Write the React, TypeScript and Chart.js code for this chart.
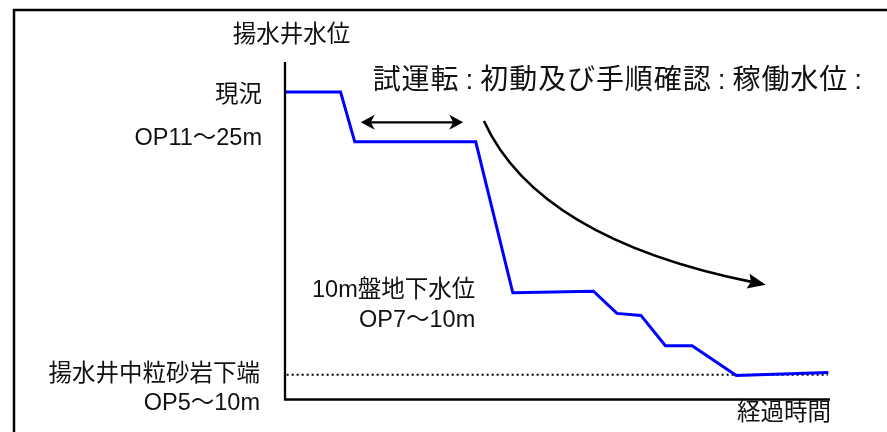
import React, { useEffect, useRef } from "react";
import { Chart, registerables } from "chart.js";

Chart.register(...registerables);

// ---- data (x: elapsed time, y: water level, arbitrary units 0..100) ----
const levelX = [0, 10.2, 12.8, 35.0, 41.8, 56.6, 60.9, 65.3, 69.8, 74.7, 82.8, 99.7];
const levelY = [91.1, 91.1, 76.3, 76.3, 31.5, 32.0, 25.4, 24.8, 15.8, 15.8, 7.0, 7.9];
const baseX = [0.3, 99.6];
const baseY = [7.2, 7.2];

// ---- texts ----
const yAxisTitle = "揚水井水位";
const xAxisTitle = "経過時間";
const currentLabel = ["現況", "OP11～25m"];
const shallowLabel = ["10m盤地下水位", "OP7～10m"];
const bottomLabel = ["揚水井中粒砂岩下端", "OP5～10m"];
const phaseTitle = "試運転:初動及び手順確認:稼働水位:";

const FONT = '"Liberation Sans", "Noto Sans CJK JP", sans-serif';

function arrowHead(ctx: CanvasRenderingContext2D, tx: number, ty: number, ang: number, len: number, half: number, notch: number) {
  ctx.save();
  ctx.translate(tx, ty);
  ctx.rotate(ang);
  ctx.beginPath();
  ctx.moveTo(0, 0);
  ctx.lineTo(-len, -half);
  ctx.lineTo(-len + notch, 0);
  ctx.lineTo(-len, half);
  ctx.closePath();
  ctx.fill();
  ctx.restore();
}

const decor = {
  id: "decor",
  beforeDraw(chart: any) {
    const ctx = chart.ctx as CanvasRenderingContext2D;
    ctx.save();
    ctx.fillStyle = "#ffffff";
    ctx.fillRect(0, 0, chart.width, chart.height);
    ctx.strokeStyle = "#000";
    ctx.lineWidth = 2.5;
    ctx.strokeRect(14, 10, chart.width + 50, chart.height + 50);
    ctx.restore();
  },
  afterDatasetsDraw(chart: any) {
    const ctx = chart.ctx as CanvasRenderingContext2D;
    const xs = chart.scales.x;
    const ys = chart.scales.y;
    const X = (v: number) => xs.getPixelForValue(v);
    const Y = (v: number) => ys.getPixelForValue(v);
    const ca = chart.chartArea;
    ctx.save();

    // axes
    ctx.strokeStyle = "#000";
    ctx.lineWidth = 2.3;
    ctx.lineJoin = "miter";
    ctx.beginPath();
    ctx.moveTo(X(0), ca.top);
    ctx.lineTo(X(0), ca.bottom + 0.5);
    ctx.lineTo(ca.right, ca.bottom + 0.5);
    ctx.stroke();

    // texts
    ctx.fillStyle = "#111";
    ctx.textBaseline = "middle";
    ctx.font = `23.5px ${FONT}`;
    ctx.textAlign = "center";
    ctx.fillText(yAxisTitle, X(0) + 6.5, Y(108));
    ctx.textAlign = "right";
    ctx.fillText(xAxisTitle, ca.right + 1, Y(-4.2));
    const lx = X(0) - 23;
    ctx.fillText(currentLabel[0], lx, Y(90.2));
    ctx.fillText(currentLabel[1], lx, Y(77.4));
    ctx.fillText(bottomLabel[0], lx - 2, Y(7.4));
    ctx.fillText(bottomLabel[1], lx - 2, Y(-1.3));
    ctx.fillText(shallowLabel[0], X(34.9), Y(32.3));
    ctx.fillText(shallowLabel[1], X(34.9), Y(23.3));

    // phase title, char by char
    ctx.font = `28px ${FONT}`;
    ctx.textAlign = "center";
    let tx = X(16.0);
    const ty = Y(94.4);
    for (const ch of phaseTitle) {
      const w = ch === ":" ? 21 : 28.9;
      ctx.fillText(ch, tx + w / 2, ty);
      tx += w;
    }

    // double arrow
    ctx.fillStyle = "#000";
    ctx.strokeStyle = "#000";
    const ax1 = X(13.9), ax2 = X(32.7), ay = Y(82.1);
    ctx.lineWidth = 2.2;
    ctx.beginPath();
    ctx.moveTo(ax1 + 6, ay);
    ctx.lineTo(ax2 - 6, ay);
    ctx.stroke();
    arrowHead(ctx, ax1, ay, Math.PI, 14, 7.5, 4);
    arrowHead(ctx, ax2, ay, 0, 14, 7.5, 4);

    // curved arrow (quadratic)
    const p0 = { x: X(36.5), y: Y(82.5) };
    const p1 = { x: X(46.4), y: Y(47.5) };
    const p2 = { x: X(88.2), y: Y(33.9) };
    const ang = Math.atan2(p2.y - p1.y, p2.x - p1.x);
    const endX = p2.x - Math.cos(ang) * 12;
    const endY = p2.y - Math.sin(ang) * 12;
    ctx.lineWidth = 2.6;
    ctx.beginPath();
    ctx.moveTo(p0.x, p0.y);
    ctx.quadraticCurveTo(p1.x, p1.y, endX, endY);
    ctx.stroke();
    arrowHead(ctx, p2.x, p2.y, ang, 18, 7.5, 3);

    ctx.restore();
  },
};

export default function App() {
  const ref = useRef<HTMLCanvasElement | null>(null);
  useEffect(() => {
    if (!ref.current) return;
    const chart = new Chart(ref.current, {
      type: "line",
      data: {
        datasets: [
          {
            data: levelX.map((x, i) => ({ x, y: levelY[i] })),
            borderColor: "#0000FF",
            borderWidth: 3,
            pointRadius: 0,
            tension: 0,
            fill: false,
            borderJoinStyle: "miter",
          },
          {
            data: baseX.map((x, i) => ({ x, y: baseY[i] })),
            borderColor: "#000",
            borderWidth: 2,
            borderDash: [2, 3],
            pointRadius: 0,
            fill: false,
          },
        ],
      },
      options: {
        responsive: false,
        animation: false,
        devicePixelRatio: 1,
        events: [],
        layout: { padding: { left: 285, top: 62, right: 57, bottom: 33 } },
        scales: {
          x: { type: "linear", min: 0, max: 100, display: false },
          y: { type: "linear", min: 0, max: 100, display: false },
        },
        plugins: { legend: { display: false }, tooltip: { enabled: false }, title: { display: false } },
      },
      plugins: [decor],
    } as any);
    return () => chart.destroy();
  }, []);
  return (
    <div style={{ position: "absolute", left: 0, top: 0, width: 887, height: 432, background: "#fff", overflow: "hidden" }}>
      <canvas ref={ref} width={887} height={432} style={{ display: "block", width: 887, height: 432 }} />
    </div>
  );
}
